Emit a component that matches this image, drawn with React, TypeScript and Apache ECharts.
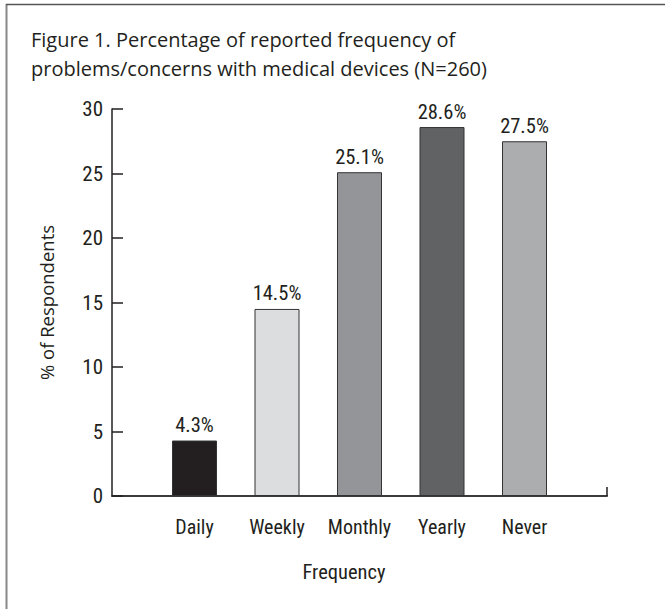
import React, { useEffect, useRef } from "react";
import * as echarts from "echarts";

const categories = ["Daily", "Weekly", "Monthly", "Yearly", "Never"];
const values = [4.3, 14.5, 25.1, 28.6, 27.5];
const barColors = ["#231f20", "#dcdddf", "#939598", "#616264", "#acadaf"];
const yTicks = { min: 0, max: 30, interval: 5 };
const titleLines = [
  "Figure 1. Percentage of reported frequency of",
  "problems/concerns with medical devices (N=260)",
];

const FONT = "'Roboto Condensed', 'Noto Sans', sans-serif";
const WIDE_FONT = "'Open Sans', 'Noto Sans', sans-serif";
const INK = "#231f20";

export default function App() {
  const ref = useRef<HTMLDivElement>(null);
  useEffect(() => {
    document.body.style.margin = "0";
    const chart = echarts.init(ref.current!, null, { renderer: "svg" });
    const axisCats = ["", ...categories, ""];
    const data: any[] = ["-"];
    values.forEach((v, i) =>
      data.push({ value: v, itemStyle: { color: barColors[i] } })
    );
    data.push("-");
    chart.setOption({
      animation: false,
      backgroundColor: "#fff",
      textStyle: { fontFamily: FONT },
      grid: { left: 112, right: 58, top: 109, bottom: 113 },
      graphic: [
        { type: "line", shape: { x1: 6.5, y1: 4, x2: 6.5, y2: 609 }, style: { stroke: "#888", lineWidth: 2 } },
        { type: "line", shape: { x1: 6, y1: 4.5, x2: 665, y2: 4.5 }, style: { stroke: "#555", lineWidth: 1.5 } },
        {
          type: "text",
          left: 31,
          top: 25,
          style: {
            text: titleLines.join("\n"),
            font: `20px ${WIDE_FONT}`,
            lineHeight: 29,
            fill: INK,
          },
        },
        {
          type: "text",
          x: 344,
          y: 572,
          style: {
            text: "Frequency",
            font: `20.5px ${FONT}`,
            fill: INK,
            align: "center",
            verticalAlign: "middle",
          },
        },
      ],
      xAxis: {
        type: "category",
        data: axisCats,
        boundaryGap: false,
        axisLine: { lineStyle: { color: "#3a3a3a", width: 2 } },
        axisTick: {
          show: true,
          inside: true,
          length: 9,
          interval: (i: number) => i === axisCats.length - 1,
          lineStyle: { color: INK, width: 1.5 },
        },
        axisLabel: {
          interval: 0,
          margin: 21,
          fontSize: 20,
          color: INK,
          fontFamily: FONT,
        },
        splitLine: { show: false },
      },
      yAxis: {
        type: "value",
        min: yTicks.min,
        max: yTicks.max,
        interval: yTicks.interval,
        name: "% of Respondents",
        nameLocation: "middle",
        nameGap: 56,
        nameTextStyle: { fontSize: 18.5, color: INK, fontFamily: WIDE_FONT },
        axisLine: { show: true, lineStyle: { color: INK, width: 1.5 } },
        axisTick: { show: true, inside: true, length: 11, lineStyle: { color: INK, width: 1.5 } },
        axisLabel: { margin: 9, fontSize: 21, color: INK, fontFamily: FONT },
        splitLine: { show: false },
      },
      series: [
        {
          type: "bar",
          data,
          barWidth: 45,
          itemStyle: { borderColor: "#333", borderWidth: 1 },
          label: {
            show: true,
            position: "top",
            distance: 5,
            formatter: "{c}%",
            fontSize: 20.5,
            color: INK,
            fontFamily: FONT,
          },
        },
      ],
    });
    return () => chart.dispose();
  }, []);
  return <div ref={ref} style={{ width: 665, height: 609 }} />;
}
